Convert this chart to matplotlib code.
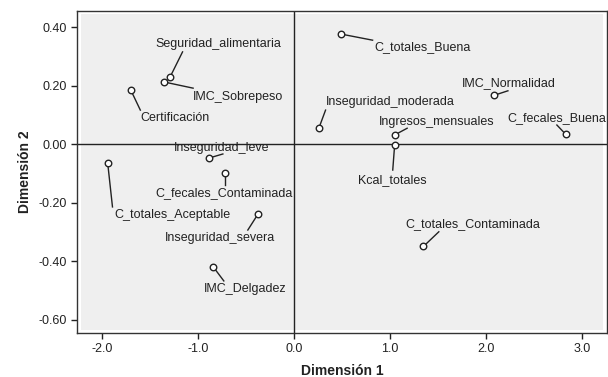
import matplotlib.pyplot as plt
from matplotlib.patches import Rectangle

plt.rcParams['font.family'] = ['Liberation Sans', 'DejaVu Sans']

# category points (dimension 1, dimension 2)
categorias = ['Seguridad_alimentaria', 'IMC_Sobrepeso', 'Certificación',
              'Inseguridad_leve', 'C_fecales_Contaminada', 'C_totales_Aceptable',
              'Inseguridad_severa', 'IMC_Delgadez', 'C_totales_Buena',
              'IMC_Normalidad', 'Inseguridad_moderada', 'Ingresos_mensuales',
              'C_fecales_Buena', 'Kcal_totales', 'C_totales_Contaminada']
dim1 = [-1.29, -1.35, -1.70, -0.885, -0.72, -1.94, -0.375, -0.84, 0.49,
        2.09, 0.26, 1.05, 2.83, 1.05, 1.35]
dim2 = [0.229, 0.212, 0.185, -0.048, -0.10, -0.065, -0.24, -0.42, 0.376,
        0.167, 0.054, 0.031, 0.034, -0.002, -0.35]

xticks = [-2.0, -1.0, 0.0, 1.0, 2.0, 3.0]
yticks = [0.40, 0.20, 0.00, -0.20, -0.40, -0.60]

# label placement: label centre and end of the leader line
etiquetas = {
    'Seguridad_alimentaria': (-0.79, 0.342, -1.16, 0.315),
    'IMC_Sobrepeso': (-0.58, 0.161, -1.05, 0.191),
    'Certificación': (-1.24, 0.089, -1.60, 0.116),
    'Inseguridad_leve': (-0.75, -0.014, -0.74, -0.034),
    'C_fecales_Contaminada': (-0.73, -0.168, -0.72, -0.14),
    'C_totales_Aceptable': (-1.27, -0.243, -1.89, -0.215),
    'Inseguridad_severa': (-0.77, -0.32, -0.48, -0.294),
    'IMC_Delgadez': (-0.51, -0.496, -0.73, -0.468),
    'C_totales_Buena': (1.34, 0.331, 0.82, 0.355),
    'IMC_Normalidad': (2.24, 0.208, 2.23, 0.182),
    'Inseguridad_moderada': (1.00, 0.145, 0.33, 0.116),
    'Ingresos_mensuales': (1.49, 0.077, 1.18, 0.054),
    'C_fecales_Buena': (2.74, 0.089, 2.74, 0.065),
    'Kcal_totales': (1.03, -0.123, 1.03, -0.089),
    'C_totales_Contaminada': (1.86, -0.274, 1.51, -0.30),
}

fig = plt.figure(figsize=(6.08, 3.77), dpi=100)
ax = fig.add_axes([0.1266, 0.1167, 0.8714, 0.8543])
ax.set_facecolor('white')
ax.add_patch(Rectangle((0.008, 0.01), 0.984, 0.98, transform=ax.transAxes,
                       facecolor='#efefef', edgecolor='none', zorder=0))

ax.axhline(0, color='#222222', lw=1.0, zorder=1)
ax.axvline(0, color='#222222', lw=1.0, zorder=1)

for nombre, x, y in zip(categorias, dim1, dim2):
    lx, ly, ex, ey = etiquetas[nombre]
    ax.plot([x, ex], [y, ey], color='#222222', lw=1.0, zorder=2)
    ax.text(lx, ly, nombre, ha='center', va='center', fontsize=9,
            color='#222222', zorder=4)

ax.scatter(dim1, dim2, s=22, facecolor='white', edgecolor='#222222',
           linewidth=1.0, zorder=3)

ax.set_xlim(-2.26, 3.26)
ax.set_ylim(-0.646, 0.455)
ax.set_xticks(xticks)
ax.set_xticklabels([f'{v:.1f}' for v in xticks])
ax.set_yticks(yticks)
ax.set_yticklabels([f'{v:.2f}' for v in yticks])
ax.tick_params(direction='out', length=4, width=1, labelsize=9,
               colors='#222222', pad=3)

for s in ax.spines.values():
    s.set_color('#333333')
    s.set_linewidth(1.0)

ax.set_xlabel('Dimensión 1', fontsize=10, fontweight='bold', color='#222222', labelpad=7)
ax.set_ylabel('Dimensión 2', fontsize=10, fontweight='bold', color='#222222', labelpad=5)

fig.savefig('out.png', dpi=100)
